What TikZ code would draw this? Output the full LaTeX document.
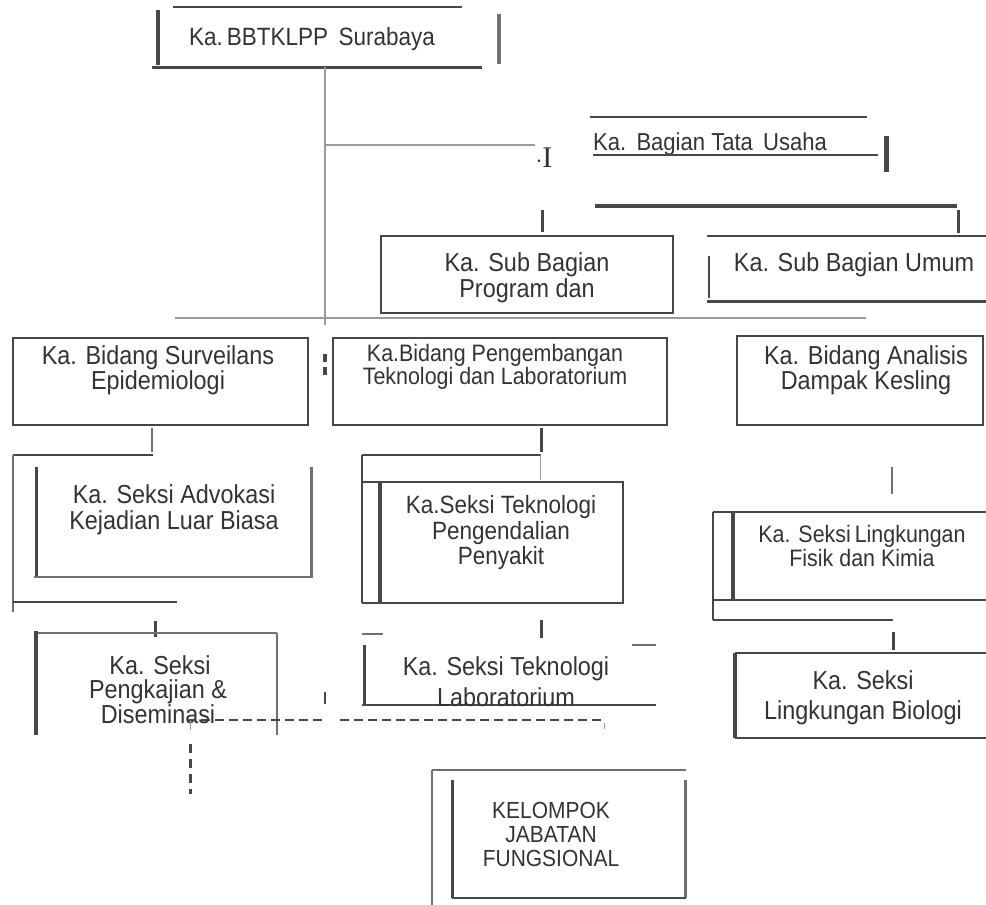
\documentclass[tikz,border=0pt]{standalone}
\usepackage{fontspec}
\setmainfont[FakeStretch=0.9]{Liberation Sans}
\newfontfamily\serifI{Liberation Serif}
\definecolor{txtc}{HTML}{333333}
\definecolor{dgray}{HTML}{474747}
\definecolor{mgray}{HTML}{707070}
\definecolor{lgray}{HTML}{9A9A9A}
\begin{document}
\begin{tikzpicture}[x=1pt,y=-1pt,
  txt/.style={text=txtc, font=\fontsize{26}{26}\selectfont, align=center, inner sep=0pt},
  thinln/.style={draw=lgray, line width=1.3pt},
  medln/.style={draw=dgray, line width=2.4pt},
  thickln/.style={draw=dgray, line width=4pt},
  grayln/.style={draw=mgray, line width=2pt}
]
\fill[white] (0,0) rectangle (986,905);
\useasboundingbox (0,0) rectangle (986,905);

% top box
\draw[medln,line width=2pt] (173,7) -- (462,7);
\draw[thickln] (158,10) -- (158,65);
\draw[thickln,draw=mgray] (499,14) -- (499,64);
\draw[medln,line width=3pt] (152,67) -- (482,67);
\node[txt, font=\fontsize{25}{26}\selectfont] (top) at (312,39) {Ka.\,BBTKLPP\ \,Surabaya};

% main vertical
\coordinate (mv1) at (325,67);
\coordinate (mv2) at (325,325);
\draw[thinln] (mv1) -- (mv2);

% branch to Tata Usaha
\coordinate (tb1) at (325,145);
\coordinate (tb2) at (535,145);
\draw[thinln] (tb1) -- (tb2);
\node[text=txtc, font=\serifI\fontsize{30}{30}\selectfont, inner sep=0pt] (ibeam) at (544,158) {$\cdot$I};

% Tata Usaha
\draw[medln] (590,117) -- (867,117);
\node[txt, anchor=west, font=\fontsize{24.5}{26}\selectfont] (tu) at (593,144) {Ka.\ \,Bagian Tata\ \,Usaha};
\draw[medln,line width=1.6pt] (593,155) -- (878,155);
\draw[thickln,line width=5pt] (886,136) -- (886,172);
\draw[medln,line width=3.5pt] (595,206) -- (957,206);
\draw[medln,line width=3pt] (958,210) -- (958,233);
\draw[medln,line width=3pt] (542,210) -- (542,232);

% Sub Bagian Program
\draw[medln] (381,236) rectangle (673,313);
\node[txt, font=\fontsize{26}{26}\selectfont] (prog) at (527,278) {Ka. Sub Bagian\\Program dan};

% Sub Bagian Umum
\draw[medln] (707,236) -- (986,236);
\draw[medln,line width=3pt] (707,301) -- (986,301);
\draw[medln] (709,256) -- (709,298);
\node[txt] (umum) at (854,265) {Ka. Sub Bagian Umum};

% long horizontal
\draw[thinln] (175,318) -- (866,318);

% Bidang Surveilans
\draw[medln] (13,338) rectangle (308,425);
\node[txt, font=\fontsize{26}{23}\selectfont] (surv) at (158,370) {Ka. Bidang Surveilans\\Epidemiologi};
\draw[thickln,line width=3.5pt] (325,354) -- (325,362);
\draw[thickln,line width=3.5pt] (325,367) -- (325,375);

% Bidang Pengembangan
\draw[medln] (333,338) rectangle (667,425);
\node[txt, font=\fontsize{23.8}{19}\selectfont] (peng) at (495,367) {Ka.Bidang Pengembangan\\Teknologi dan Laboratorium};

% Bidang Analisis
\draw[medln] (737,336) rectangle (983,425);
\node[txt, font=\fontsize{26}{24}\selectfont] (anal) at (866,370) {Ka. Bidang Analisis\\Dampak Kesling};

% left column
\draw[grayln] (152,428) -- (152,452);
\draw[medln,line width=2pt] (13,455) -- (153,455);
\draw[thinln,draw=mgray,line width=1.5pt] (13,455) -- (13,612);
\draw[medln,line width=3pt] (36,467) -- (36,578);
\draw[grayln,line width=3pt] (311,467) -- (311,578);
\draw[thinln,draw=mgray,line width=1.5pt] (34,577) -- (311,577);
\node[txt, font=\fontsize{26}{26}\selectfont] (advo) at (174,510) {Ka. Seksi Advokasi\\Kejadian Luar Biasa};
\draw[medln,line width=1.6pt] (13,602) -- (177,602);
\draw[medln,line width=3pt] (155,621) -- (155,637);
\draw[thinln,draw=mgray,line width=1.8pt] (36,633) -- (277,633);
\draw[thickln] (36,631) -- (36,735);
\draw[grayln] (277,633) -- (277,735);
\node[txt] (kaj1) at (160,665) {Ka. Seksi};
\node[txt, font=\fontsize{26}{15}\selectfont] (kaj2) at (158,702) {Pengkajian \&\\Diseminasi};

% middle column
\draw[medln,line width=3pt] (541,428) -- (541,452);
\draw[medln] (362,455) -- (541,455);
\draw[thinln,draw=lgray,line width=0.8pt] (540,455) -- (540,480);
\draw[medln] (362,455) -- (362,603);
\draw[medln] (362,482) -- (623,482) -- (623,603) -- (362,603);
\draw[thickln] (380,482) -- (380,603);
\node[txt, font=\fontsize{25}{25.5}\selectfont] (tpp) at (501,533) {Ka.Seksi Teknologi\\Pengendalian\\Penyakit};
\draw[medln,line width=3pt] (541,620) -- (541,638);
\draw[grayln,line width=2.4pt] (362,634) -- (383,634);
\draw[grayln,line width=2.4pt] (632,645) -- (656,645);
\draw[thickln,line width=3pt] (364,645) -- (364,706);
\draw[medln,line width=1.6pt] (362,705) -- (656,705);
\node[txt, font=\fontsize{26}{31}\selectfont] (tlab) at (506,682) {Ka. Seksi Teknologi\\Laboratorium};

% right column
\draw[grayln] (892,467) -- (892,494);
\draw[medln] (713,512) -- (986,512);
\draw[medln] (713,512) -- (713,620);
\draw[thickln] (733,512) -- (733,600);
\draw[medln] (713,600) -- (986,600);
\node[txt, font=\fontsize{23.8}{20}\selectfont] (lfk) at (862,546) {Ka. Seksi\,Lingkungan\\Fisik dan Kimia};
\draw[medln,line width=1.6pt] (713,620) -- (893,620);
\draw[medln,line width=3pt] (893,632) -- (893,650);
\draw[thickln,line width=3.5pt] (735,653) -- (735,738);
\draw[medln,line width=1.6pt] (735,653) -- (986,653);
\draw[medln,line width=1.6pt] (735,738) -- (986,738);
\node[txt, font=\fontsize{26}{30}\selectfont] (bio) at (863,698) {Ka. Seksi\\Lingkungan Biologi};

% dashed connector to functional group
\draw[medln,line width=2.5pt] (325,692) -- (325,704);
\draw[medln,dash pattern=on 9pt off 5pt] (187,720) -- (322,720);
\draw[medln,dash pattern=on 9pt off 5pt] (340,720) -- (603,720);
\draw[thinln,line width=1pt] (604,723) -- (604,729);
\draw[thinln,line width=1pt] (190,722) -- (190,730);
\draw[thickln,line width=3pt,dash pattern=on 9pt off 6pt] (190,744) -- (190,794);

% Kelompok Jabatan Fungsional
\draw[grayln] (432,770) -- (686,770);
\draw[thinln,draw=mgray,line width=1.5pt] (432,770) -- (432,905);
\draw[thickln,line width=3pt] (452,780) -- (452,898);
\draw[grayln,line width=3pt] (685,780) -- (685,898);
\draw[medln] (452,898) -- (686,898);
\node[txt, font=\fontsize{23.3}{24}\selectfont] (kjf) at (551,834) {KELOMPOK\\JABATAN\\FUNGSIONAL};
\end{tikzpicture}
\end{document}
